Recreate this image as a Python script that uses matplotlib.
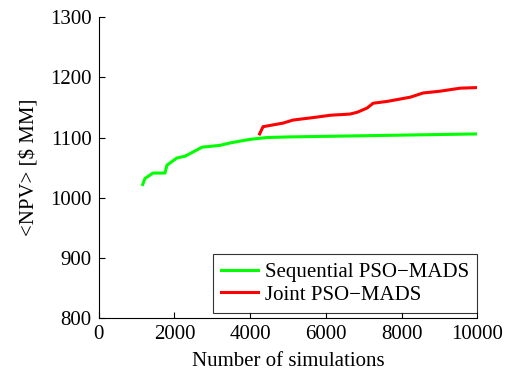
import matplotlib
matplotlib.use("Agg")
import matplotlib.pyplot as plt

# sequential PSO-MADS
seq_sims = [1160, 1220, 1430, 1750, 1800, 2060, 2280, 2490, 2730, 3200, 3470,
            3730, 4000, 4440, 5000, 6000, 7000, 8000, 9000, 10000]
seq_npv = [1022, 1032, 1041, 1041, 1054, 1066, 1069, 1076, 1084, 1087, 1091,
           1094, 1097, 1100, 1101, 1102, 1103, 1104, 1105, 1106]

# joint PSO-MADS
joint_sims = [4250, 4340, 4870, 5130, 5770, 6110, 6640, 6830, 7090, 7250,
              7620, 8230, 8570, 9020, 9550, 10000]
joint_npv = [1106, 1118, 1124, 1129, 1134, 1137, 1139, 1142, 1149, 1157,
             1160, 1167, 1174, 1177, 1182, 1183]

plt.rcParams["font.family"] = "Liberation Serif"
plt.rcParams["font.size"] = 15

fig = plt.figure(figsize=(5.12, 3.81), dpi=100)
ax = fig.add_axes([0.193, 0.165, 0.739, 0.790])

ax.plot(seq_sims, seq_npv, color="#00ff00", lw=2.2, label="Sequential PSO\u2212MADS")
ax.plot(joint_sims, joint_npv, color="#ff0000", lw=2.2, label="Joint PSO\u2212MADS")

ax.set_xlim(0, 10000)
ax.set_ylim(800, 1300)
ax.set_xticks([0, 2000, 4000, 6000, 8000, 10000])
ax.set_yticks([800, 900, 1000, 1100, 1200, 1300])
ax.spines["top"].set_visible(False)
ax.spines["right"].set_visible(False)
ax.tick_params(direction="in", length=4, width=0.8, pad=5)
ax.set_xlabel("Number of simulations", labelpad=6)
ax.set_ylabel("<NPV> [$ MM]", labelpad=8)

leg = ax.legend(loc="lower right", bbox_to_anchor=(1.0, 0.017), borderaxespad=0,
                fancybox=False, edgecolor="black", handlelength=1.8,
                handletextpad=0.3, borderpad=0.4, labelspacing=0.15)
leg.get_frame().set_linewidth(0.8)

fig.savefig("out.png", dpi=100)
